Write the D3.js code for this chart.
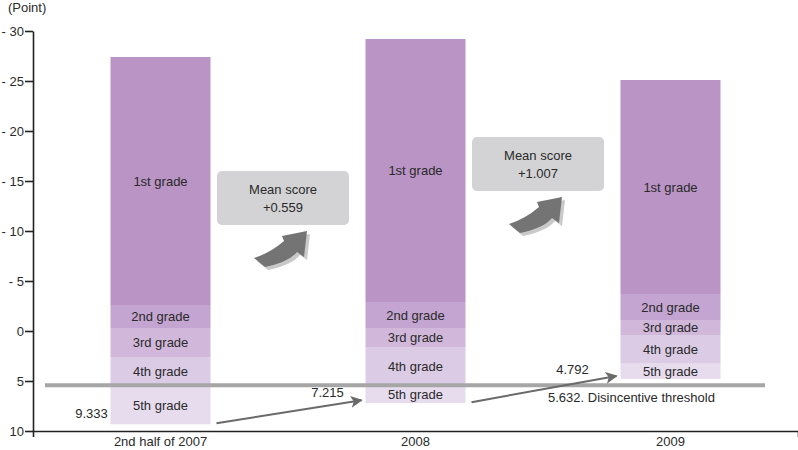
<!DOCTYPE html>
<html>
<head>
<meta charset="utf-8">
<script src="https://cdn.jsdelivr.net/npm/d3@7"></script>
<style>
  body { margin: 0; background: #fff; }
  svg { display: block; font-family: "Liberation Sans", Arial, sans-serif; }
</style>
</head>
<body>
<svg id="chart"></svg>
<script>
// categories and grade bands
const categories = ["2nd half of 2007", "2008", "2009"];
const grades = ["1st grade", "2nd grade", "3rd grade", "4th grade", "5th grade"];
const gradeColors = ["#b994c5", "#c4a4d0", "#d1b8db", "#dccbe5", "#e7dcee"];

// boundaries of each grade band (point scale, negative = up)
const barTop = [-27.4, -29.2, -25.1];
const grade1Bottom = [-2.6, -2.9, -3.7];
const grade2Bottom = [-0.3, -0.3, -1.1];
const grade3Bottom = [2.6, 1.6, 0.4];
const grade4Bottom = [5.5, 5.5, 3.2];
const grade5Bottom = [9.333, 7.215, 4.792];

const meanChange = ["+0.559", "+1.007"];
const threshold = 5.632;
const yTicks = [-30, -25, -20, -15, -10, -5, 0, 5, 10];

const width = 798;
const height = 450;
const barW = 100;

const svg = d3.select("#chart")
  .attr("width", width)
  .attr("height", height);

const x = d3.scaleBand().domain(categories).range([33, 798]);
const y = d3.scaleLinear().domain([-30, 10]).range([31, 431]);

const barLeft = c => x(c) + (x.bandwidth() - barW) / 2;

// stacked segments
const bounds = [barTop, grade1Bottom, grade2Bottom, grade3Bottom, grade4Bottom, grade5Bottom];
const segs = [];
categories.forEach((c, i) => {
  grades.forEach((g, j) => {
    segs.push({ cat: c, grade: g, j: j, from: bounds[j][i], to: bounds[j + 1][i] });
  });
});

const seg = svg.append("g").selectAll("g")
  .data(segs)
  .enter()
  .append("g");

seg.append("rect")
  .attr("x", d => barLeft(d.cat))
  .attr("y", d => y(d.from))
  .attr("width", barW)
  .attr("height", d => y(d.to) - y(d.from))
  .style("fill", d => gradeColors[d.j]);

seg.append("text")
  .attr("x", d => barLeft(d.cat) + barW / 2)
  .attr("y", d => (y(d.from) + y(d.to)) / 2)
  .attr("dy", "0.36em")
  .attr("text-anchor", "middle")
  .style("font-size", "13px")
  .style("fill", "#2a2a2a")
  .text(d => d.grade);

// disincentive threshold line
svg.append("line")
  .attr("x1", 45).attr("x2", 765)
  .attr("y1", y(threshold) - 2).attr("y2", y(threshold) - 2)
  .style("stroke", "#a6a6a6")
  .style("stroke-width", 4);

svg.append("text")
  .attr("x", 548)
  .attr("y", y(threshold) + 15)
  .style("font-size", "13px")
  .style("fill", "#2a2a2a")
  .text(threshold + ". Disincentive threshold");

// thin arrows between 5th grade bottoms
svg.append("defs").append("marker")
  .attr("id", "head")
  .attr("viewBox", "0 0 10 10")
  .attr("refX", 9).attr("refY", 5)
  .attr("markerWidth", 6).attr("markerHeight", 6)
  .attr("markerUnits", "strokeWidth")
  .attr("orient", "auto")
  .append("path")
  .attr("d", "M0,0 L10,5 L0,10 L2.5,5 Z")
  .style("fill", "#6a6a6a");

for (let i = 0; i < categories.length - 1; i++) {
  svg.append("line")
    .attr("x1", barLeft(categories[i]) + barW + 6)
    .attr("y1", y(grade5Bottom[i]) - 1)
    .attr("x2", barLeft(categories[i + 1]) - 4)
    .attr("y2", y(grade5Bottom[i + 1]) - 3)
    .style("stroke", "#6a6a6a")
    .style("stroke-width", 2)
    .attr("marker-end", "url(#head)");
}

// value labels
const valOffset = [[-19, -6], [-38, -6], [-48, -5]];
categories.forEach((c, i) => {
  svg.append("text")
    .attr("x", barLeft(c) + valOffset[i][0])
    .attr("y", y(grade5Bottom[i]) + valOffset[i][1])
    .attr("text-anchor", "middle")
    .style("font-size", "13px")
    .style("fill", "#2a2a2a")
    .text(grade5Bottom[i]);
});

// mean score callouts with curved arrows
const boxTop = [171, 137];
const arrowPath = "M0,0 L-3,26 L-10,21 Q-18,31 -42,36 L-53,27 Q-37,22 -23,10 L-25,5 Z";
meanChange.forEach((m, i) => {
  const cx = x(categories[i + 1]) - 5;
  const g = svg.append("g").attr("transform", `translate(${cx},${boxTop[i]})`);
  g.append("rect")
    .attr("x", -66).attr("y", 0)
    .attr("width", 132).attr("height", 54)
    .attr("rx", 5)
    .style("fill", "#d3d3d5");
  g.append("text")
    .attr("text-anchor", "middle")
    .attr("y", 23)
    .style("font-size", "13px")
    .style("fill", "#2a2a2a")
    .text("Mean score");
  g.append("text")
    .attr("text-anchor", "middle")
    .attr("y", 41)
    .style("font-size", "13px")
    .style("fill", "#2a2a2a")
    .text(m);
  const a = g.append("g").attr("transform", "translate(24,60)");
  a.append("path").attr("d", arrowPath)
    .attr("transform", "translate(3,3)")
    .style("fill", "#c9c9c9");
  a.append("path").attr("d", arrowPath)
    .style("fill", "#747474");
});

// axes
const yAxis = svg.append("g")
  .attr("transform", "translate(33,0)")
  .call(d3.axisLeft(y).tickValues(yTicks).tickSize(8).tickSizeOuter(0).tickPadding(1)
    .tickFormat(d => d < 0 ? "- " + (-d) : d));

const xAxis = svg.append("g")
  .attr("transform", "translate(0,431)")
  .call(d3.axisBottom(x).tickSize(0).tickSizeOuter(6).tickPadding(6));

[yAxis, xAxis].forEach(ax => {
  ax.select(".domain").style("stroke", "#222").style("stroke-width", 1.6);
  ax.selectAll(".tick line").style("stroke", "#222").style("stroke-width", 1.6);
  ax.selectAll("text")
    .style("font-size", "13px")
    .style("font-family", "'Liberation Sans', Arial, sans-serif")
    .style("fill", "#2a2a2a");
});

svg.append("text")
  .attr("x", 8)
  .attr("y", 12)
  .style("font-size", "13px")
  .style("fill", "#2a2a2a")
  .text("(Point)");
</script>
</body>
</html>
